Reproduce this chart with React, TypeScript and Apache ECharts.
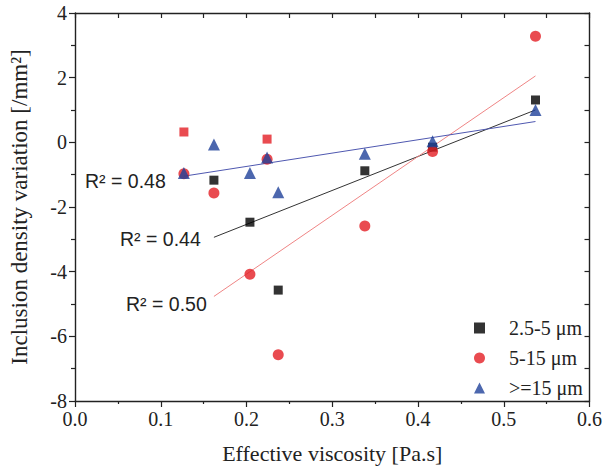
import React, { useEffect, useRef } from "react";
import * as echarts from "echarts";

// Effective viscosity [Pa.s] for each trial
const viscosity = [0.127, 0.162, 0.204, 0.224, 0.237, 0.338, 0.417, 0.537];

// Inclusion density variation [/mm²] per size class
const small = [0.32, -1.17, -2.47, 0.1, -4.57, -0.88, -0.15, 1.31]; // 2.5-5 µm
const medium = [-0.97, -1.57, -4.08, -0.52, -6.57, -2.59, -0.28, 3.28]; // 5-15 µm
const large = [-0.95, -0.07, -0.95, -0.47, -1.54, -0.35, 0.03, 1.0]; // >=15 µm

// Points left out of the linear fits
const smallExcluded = [0, 3];
const mediumExcluded = [0, 3];
const largeExcluded: number[] = [];

const seriesNames = ["2.5-5 μm", "5-15 μm", ">=15 μm"];
const r2Labels = ["R² = 0.44", "R² = 0.50", "R² = 0.48"];

const xTicks = { min: 0, max: 0.6, interval: 0.1 };
const yTicks = { min: -8, max: 4, interval: 2 };

// Least-squares line over the kept points, drawn across their x range
function fitLine(xs: number[], ys: number[], skip: number[]) {
  const px: number[] = [];
  const py: number[] = [];
  xs.forEach((x, i) => {
    if (!skip.includes(i)) {
      px.push(x);
      py.push(ys[i]);
    }
  });
  const n = px.length;
  const mx = px.reduce((a, b) => a + b, 0) / n;
  const my = py.reduce((a, b) => a + b, 0) / n;
  let sxy = 0;
  let sxx = 0;
  for (let i = 0; i < n; i++) {
    sxy += (px[i] - mx) * (py[i] - my);
    sxx += (px[i] - mx) ** 2;
  }
  const slope = sxy / sxx;
  const b = my - slope * mx;
  const x0 = Math.min(...px);
  const x1 = Math.max(...px);
  return [
    [x0, b + slope * x0],
    [x1, b + slope * x1],
  ];
}

const BLACK = "#000000";
const RED = "#e31e24";
const BLUE = "#1f419a";
const SERIF = "Liberation Serif";
const SANS = "Liberation Sans";
const INK = "#222222";

export default function App() {
  const ref = useRef<HTMLDivElement>(null);

  useEffect(() => {
    document.body.style.margin = "0";
    if (!ref.current) return;
    const chart = echarts.init(ref.current, undefined, { renderer: "svg" });

    const pts = (ys: number[], excluded: number[], exColor?: string) =>
      viscosity.map((x, i) =>
        excluded.includes(i) && exColor
          ? { value: [x, ys[i]], itemStyle: { color: exColor } }
          : [x, ys[i]]
      );

    const axisLine = { show: true, onZero: false, lineStyle: { color: INK, width: 1.4 } };
    const tickStyle = { color: INK, width: 1.2 };

    chart.setOption({
      animation: false,
      backgroundColor: "#ffffff",
      grid: { left: 69, right: 13, top: 13, bottom: 66 },
      legend: {
        orient: "vertical",
        left: 469,
        top: 313,
        itemWidth: 11,
        itemHeight: 11,
        itemGap: 10,
        textStyle: {
          fontFamily: SERIF,
          fontSize: 20,
          color: INK,
          lineHeight: 18,
          padding: [0, 0, 0, 19],
        },
        data: [
          { name: seriesNames[0], icon: "rect" },
          { name: seriesNames[1], icon: "circle" },
          { name: seriesNames[2], icon: "triangle" },
        ],
      },
      xAxis: [
        {
          type: "value",
          position: "bottom",
          ...xTicks,
          name: "Effective viscosity [Pa.s]",
          nameLocation: "middle",
          nameGap: 41,
          nameTextStyle: { fontFamily: SERIF, fontSize: 22, color: INK },
          axisLine,
          axisTick: { show: true, inside: false, length: 6, lineStyle: tickStyle },
          minorTick: { show: true, splitNumber: 2, length: 3, lineStyle: tickStyle },
          splitLine: { show: false },
          axisLabel: {
            fontFamily: SERIF,
            fontSize: 20,
            color: INK,
            margin: 8,
            formatter: (v: number) => v.toFixed(1),
          },
        },
        {
          type: "value",
          position: "top",
          ...xTicks,
          axisLine,
          axisTick: { show: true, inside: true, length: 5, lineStyle: tickStyle },
          minorTick: { show: true, splitNumber: 2, length: 5, lineStyle: tickStyle },
          splitLine: { show: false },
          axisLabel: { show: false },
        },
      ],
      yAxis: [
        {
          type: "value",
          position: "left",
          ...yTicks,
          name: "Inclusion density variation [/mm²]",
          nameLocation: "middle",
          nameGap: 44,
          nameTextStyle: { fontFamily: SERIF, fontSize: 23, color: INK },
          axisLine,
          axisTick: { show: true, inside: false, length: 6, lineStyle: tickStyle },
          minorTick: { show: true, splitNumber: 2, length: 4, lineStyle: tickStyle },
          splitLine: { show: false },
          axisLabel: { fontFamily: SERIF, fontSize: 20, color: INK, margin: 8 },
        },
        {
          type: "value",
          position: "right",
          ...yTicks,
          axisLine,
          axisTick: { show: true, inside: true, length: 5, lineStyle: tickStyle },
          minorTick: { show: true, splitNumber: 2, length: 5, lineStyle: tickStyle },
          splitLine: { show: false },
          axisLabel: { show: false },
        },
      ],
      series: [
        {
          name: "fit-small",
          type: "line",
          data: fitLine(viscosity, small, smallExcluded),
          symbol: "none",
          lineStyle: { color: "#333333", width: 1 },
          z: 1,
          silent: true,
        },
        {
          name: "fit-medium",
          type: "line",
          data: fitLine(viscosity, medium, mediumExcluded),
          symbol: "none",
          lineStyle: { color: "#ef8585", width: 1 },
          z: 1,
          silent: true,
        },
        {
          name: "fit-large",
          type: "line",
          data: fitLine(viscosity, large, largeExcluded),
          symbol: "none",
          lineStyle: { color: "#4f58b0", width: 1 },
          z: 1,
          silent: true,
        },
        {
          name: seriesNames[0],
          type: "scatter",
          symbol: "rect",
          symbolSize: 9,
          itemStyle: { color: BLACK },
          data: pts(small, smallExcluded, RED),
          z: 3,
        },
        {
          name: seriesNames[1],
          type: "scatter",
          symbol: "circle",
          symbolSize: 11,
          itemStyle: { color: RED },
          data: pts(medium, mediumExcluded),
          z: 4,
        },
        {
          name: seriesNames[2],
          type: "scatter",
          symbol: "triangle",
          symbolSize: 12,
          itemStyle: { color: BLUE },
          data: pts(large, largeExcluded),
          z: 5,
        },
      ],
      graphic: [
        {
          type: "text",
          left: 85,
          top: 171,
          style: { text: r2Labels[2], font: `19.5px ${SANS}`, fill: INK },
          z: 10,
        },
        {
          type: "text",
          left: 120,
          top: 229,
          style: { text: r2Labels[0], font: `19.5px ${SANS}`, fill: INK },
          z: 10,
        },
        {
          type: "text",
          left: 126,
          top: 294,
          style: { text: r2Labels[1], font: `19.5px ${SANS}`, fill: INK },
          z: 10,
        },
      ],
    });

    return () => chart.dispose();
  }, []);

  return <div ref={ref} style={{ width: 605, height: 469 }} />;
}
